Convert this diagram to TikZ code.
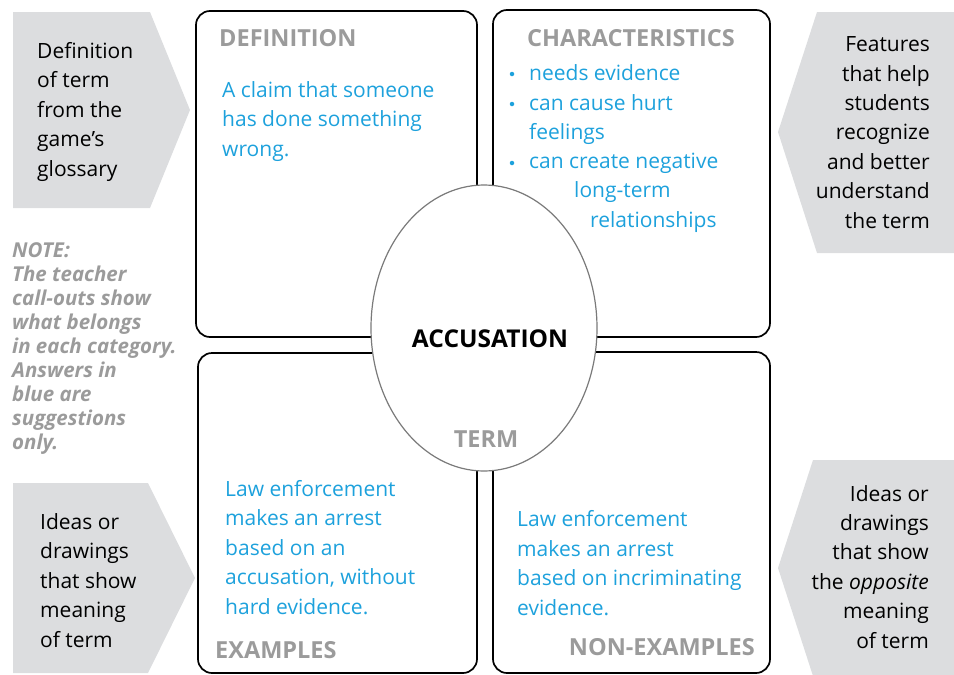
\documentclass[tikz,border=0pt]{standalone}
\usepackage{fontspec}
\setmainfont{Open Sans}
\usetikzlibrary{shapes.geometric}

\definecolor{calloutgray}{HTML}{DCDDDF}
\definecolor{labelgray}{HTML}{9B9B9B}
\definecolor{answerblue}{HTML}{1DA1DC}
\definecolor{rimgray}{HTML}{7A7A7A}

\begin{document}
\begin{tikzpicture}[x=1pt,y=-1pt,
  quad/.style={draw,line width=1.7pt,rounded corners=14pt},
  callout/.style={fill=calloutgray},
  tip/.style={font=\fontsize{21}{29.4}\selectfont,inner sep=0pt},
  heading/.style={font=\fontsize{23.5}{26}\selectfont\bfseries,text=labelgray,inner sep=0pt},
  answer/.style={font=\fontsize{21}{29.5}\selectfont,text=answerblue,inner sep=0pt,align=left,anchor=base west},
  dot/.style={circle,fill=answerblue,inner sep=0pt,minimum size=4.5pt},
]
\useasboundingbox (0,0) rectangle (954,675);
% gray call-outs
\fill[callout] (13,12) -- (150,12) -- (190,110) -- (150,208) -- (13,208) -- cycle;
\fill[callout] (13,483) -- (148,483) -- (195,578) -- (148,673) -- (13,673) -- cycle;
\fill[callout] (954,12) -- (817,12) -- (778,132) -- (817,253) -- (954,253) -- cycle;
\fill[callout] (954,460) -- (813,460) -- (778,568) -- (813,676) -- (954,676) -- cycle;

% four quadrants
\draw[quad] (196,11) rectangle (477,337);
\draw[quad] (493,10) rectangle (770,337);
\draw[quad] (198,353) rectangle (477,673);
\draw[quad] (493,352) rectangle (770,673);

% term in the middle
\node[ellipse,draw=rimgray,line width=1.2pt,fill=white,minimum width=226pt,minimum height=286pt,inner sep=0pt] (term) at (484,328) {};
\node[font=\fontsize{24.5}{26}\selectfont\bfseries,inner sep=0pt,anchor=base] (word) at (490,347) {ACCUSATION};
\node[heading,anchor=base] (termhd) at (486,447) {TERM};

% headings
\node[heading,anchor=base west] (defhd) at (219,46) {DEFINITION};
\node[heading,anchor=base west] (charhd) at (527,46) {CHARACTERISTICS};
\node[heading,anchor=base west] (exhd) at (215,658) {EXAMPLES};
\node[heading,anchor=base east] (nonhd) at (755,655) {NON-EXAMPLES};

% answers (base = last line)
\node[answer] (defans) at (222,156) {A claim that someone\\has done something\\wrong.};
\node[answer] (char1) at (529,80) {needs evidence};
\node[answer] (char2) at (529,139.5) {can cause hurt\\feelings};
\node[answer] (char3) at (529,227) {can create negative\\\hspace*{45pt}long-term\\\hspace*{61pt}relationships};
\foreach \y in {80,110,169}
  \node[dot] (bul\y) at (512,\y-6) {};
\node[answer] (exans) at (225,614) {Law enforcement\\makes an arrest\\based on an\\accusation, without\\hard evidence.};
\node[answer] (nonans) at (517,615) {Law enforcement\\makes an arrest\\based on incriminating\\evidence.};

% call-out texts
\node[tip,align=left,anchor=base west] (deftip) at (37,176) {Definition\\of term\\from the\\game's\\glossary};
\node[tip,align=right,anchor=base east] (chartip) at (930,228) {Features\\that help\\students\\recognize\\and better\\understand\\the term};
\node[tip,align=left,anchor=base west] (extip) at (40,647) {Ideas or\\drawings\\that show\\meaning\\of term};
\node[tip,align=right,anchor=base east] (nontip) at (929,648) {Ideas or\\drawings\\that show\\the \textit{opposite}\\meaning\\of term};

% note
\node[font=\fontsize{20.5}{24}\selectfont\bfseries\itshape,text=labelgray,inner sep=0pt,align=left,anchor=base west] (note) at (12,449)
  {NOTE:\\The teacher\\call-outs show\\what belongs\\in each category.\\Answers in\\blue are\\suggestions\\only.};
\end{tikzpicture}
\end{document}
